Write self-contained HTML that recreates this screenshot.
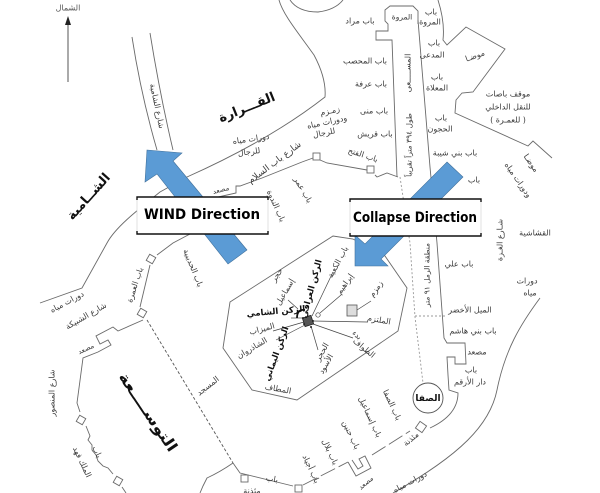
<!DOCTYPE html>
<html><head><meta charset="utf-8">
<style>
html,body{margin:0;padding:0;background:#fff;}
svg{display:block;}
text{font-family:"DejaVu Sans","Liberation Sans",sans-serif;fill:#3a3a3a;font-size:8px;dominant-baseline:central;text-anchor:middle;}
.b{font-weight:bold;fill:#111;}
.lab{font-family:"DejaVu Sans","Liberation Sans",sans-serif;font-weight:bold;fill:#000;font-size:14px;dominant-baseline:auto;text-anchor:start;}
</style></head><body>
<svg width="600" height="493" viewBox="0 0 600 493" xmlns="http://www.w3.org/2000/svg">
<rect width="600" height="493" fill="#fff"/>

<!-- North arrow -->
<line x1="68" y1="82" x2="68" y2="23" stroke="#555" stroke-width="1"/>
<polygon points="68,16 65,25 71,25" fill="#222"/>

<g fill="none" stroke="#6a6a6a" stroke-width="0.9">
  <!-- Shamiya street -->
  <path d="M132,37 Q141,95 157,150"/>
  <path d="M150,33 Q160,95 173,150"/>
  <!-- big curve -->
  <path d="M279,0 C283,15 300,35 314,55 C322,70 326,85 325,97 Q270,140 187,177 L160,192 C135,212 115,228 107,243 L82,288 L40,303"/>
  <path d="M290,0 Q298,12 318,12 Q335,10 343,0"/>
  <!-- top right bus station -->
  <path d="M438,0 Q445,22 443,40 L447,45 L466,27 L505,49 L473,92 L462,93 L456,100 L455,113 L528,146 L533,141 L552,158"/>
  <!-- Marwa & mas'a -->
  <path d="M397,177 L392,40 L376,40 L376,31 L388,31 L388,24 L385,21 L385,10 L390,6 L413,6 L418,11 L418,24" stroke-dasharray="none"/>
  <path d="M418,20 L430,167 L437,243 L444,338 L447,343 L455,343 L455,343 L465,343 L466,364 L455,364 L455,357 L447,357 L448,375 L449,390 L458,393 Q458,415 430,428"/>
  <path d="M400,177 L410,243 L415,317 L423,383" stroke="#999" stroke-dasharray="2,2"/>
  <path d="M415,316 L445,316" stroke="#999" stroke-dasharray="2,2"/>
  <!-- gates wall top -->
  <path d="M302,162 L313,158"/>
  <rect x="313" y="153" width="7" height="7"/>
  <path d="M320,160 L327,163 L367,170"/>
  <rect x="367" y="166" width="7" height="7"/>
  <path d="M375,175 L377,177 L387,173 L398,177"/>
  <path d="M302,162 L262,178 L240,186 L236,186 L236,193 L205,200"/>
  <path d="M190,234 L173,243 L157,255"/>
  <!-- octagon -->
  <path d="M230,302 L333,236 L353,239 L385,256 L407,288 L398,331 L297,400 L252,390 L223,348 Z"/>
  <!-- left boundary of expansion -->
  <rect x="-3.5" y="-3.5" width="7" height="7" transform="translate(151,259) rotate(30)"/>
  <path d="M150,265 L140,307"/>
  <rect x="-3.5" y="-3.5" width="7" height="7" transform="translate(142,313) rotate(30)"/>
  <path d="M143,320 L118,331 L113,327 L96,336 L100,344 L108,340 L111,345 L98,352 L83,358 L77,403 L80,412"/>
  <rect x="-3.5" y="-3.5" width="7" height="7" transform="translate(81,420) rotate(30)"/>
  <path d="M86,426 L88,431 L90,436 L88,440 L92,445 L92,450 L96,455 L98,461 L103,466 L108,468 L113,474"/>
  <rect x="-3.5" y="-3.5" width="7" height="7" transform="translate(118,481) rotate(30)"/>
  <path d="M122,487 L126,493"/>
  <!-- masjid dashed -->
  <path d="M147,320 L233,463" stroke="#555" stroke-dasharray="3,2"/>
  <!-- bottom -->
  <path d="M233,463 Q220,472 207,478 L203,486 L200,493"/>
  <path d="M233,463 L240,473 L293,486"/>
  <rect x="241" y="475" width="7" height="7"/>
  <rect x="295" y="485" width="7" height="7"/>
  <path d="M303,485 L348,462" stroke-dasharray="16,4"/>
  <path d="M348,462 L356,476 L371,468 L365,456 L359,459 L363,466 L358,469 L352,460"/>
  <path d="M372,455 L410,431" stroke-dasharray="16,4"/>
  <rect x="-4" y="-4" width="8" height="8" transform="translate(421,427) rotate(35)"/>
  <path d="M540,298 C520,325 505,350 497,390 C490,425 460,455 393,493"/>
  <circle cx="428" cy="398" r="15" stroke="#555"/>
</g>

<!-- Kaaba area -->
<g stroke="#444" stroke-width="0.7" fill="none">
  <line x1="303" y1="318" x2="291" y2="318"/>
  <line x1="304" y1="322" x2="273" y2="331"/>
  <line x1="305" y1="325" x2="276" y2="340"/>
  <line x1="311" y1="326" x2="318" y2="350"/>
  <line x1="313" y1="324" x2="353" y2="338"/>
  <line x1="313" y1="321" x2="367" y2="322"/>
  <line x1="312" y1="316" x2="333" y2="272"/>
  <line x1="320" y1="313" x2="341" y2="295"/>
  <line x1="357" y1="310" x2="371" y2="301"/>
  <line x1="288" y1="300" x2="298" y2="309"/>
  <circle cx="318" cy="315" r="2.2"/>
</g>
<rect x="347" y="305" width="10" height="11" fill="#ddd" stroke="#555" stroke-width="0.8"/>
<path d="M297,318 Q297,309 305,310" fill="none" stroke="#111" stroke-width="1.8"/>
<rect x="-4.5" y="-4.5" width="9" height="9" transform="translate(308,321) rotate(-18)" fill="#555" stroke="#222" stroke-width="0.8"/>
<g fill="#222">
  <circle cx="303" cy="318" r="1"/><circle cx="313" cy="321" r="1"/><circle cx="311" cy="327" r="1"/><circle cx="304" cy="324" r="1"/>
</g>

<!-- Texts -->
<text x="68" y="8" style="fill:#555">الشمال</text>
<text x="157" y="106" transform="rotate(78 157 106)">شارع الشامية</text>
<text x="247" y="108" class="b" font-size="13" transform="rotate(-22 247 108)" style="font-size:13px">القـــرارة</text>
<text x="89" y="197" class="b" transform="rotate(-48 89 197)" style="font-size:13px">الشــامية</text>
<text x="251" y="139" transform="rotate(-8 251 139)">دورات مياه</text>
<text x="249" y="152" transform="rotate(-8 249 152)">للرجال</text>
<text x="275" y="163" transform="rotate(-37 275 163)" style="font-size:9px">شارع باب السلام</text>
<text x="330" y="111" transform="rotate(-12 330 111)">زمـزم</text>
<text x="327" y="122" transform="rotate(-12 327 122)">ودورات مياه</text>
<text x="324" y="133" transform="rotate(-12 324 133)">للرجال</text>
<text x="360" y="21">باب مراد</text>
<text x="402" y="17" style="font-size:7.5px">المروة</text>
<text x="431" y="12">باب</text>
<text x="430" y="22">المروة</text>
<text x="365" y="61">باب المحصب</text>
<text x="371" y="84">باب عرفة</text>
<text x="374" y="111">باب منى</text>
<text x="375" y="134">باب قريش</text>
<text x="363" y="155" transform="rotate(18 363 155)">باب الفتح</text>
<text x="434" y="43">باب</text>
<text x="432" y="55">المدعى</text>
<text x="437" y="77">باب</text>
<text x="437" y="88">المعلاة</text>
<text x="441" y="118">باب</text>
<text x="440" y="129">الحجون</text>
<text x="455" y="153">باب بني شيبة</text>
<text x="474" y="180">باب</text>
<text x="475" y="56" transform="rotate(-20 475 56)">موضـا</text>
<text x="508" y="94">موقف باصات</text>
<text x="508" y="107">للنقل الداخلي</text>
<text x="508" y="120">( للعمـرة )</text>
<text x="531" y="163" transform="rotate(55 531 163)">موضـا</text>
<text x="518" y="180" transform="rotate(55 518 180)">ودورات مياه</text>
<text x="500" y="240" transform="rotate(-90 500 240)">شـارع الغـزة</text>
<text x="535" y="233">القشاشية</text>
<text x="527" y="281">دورات</text>
<text x="530" y="293">مياه</text>
<text x="459" y="264">باب علي</text>
<text x="470" y="310">الميل الأخضر</text>
<text x="473" y="331">باب بني هاشم</text>
<text x="477" y="352">مصعد</text>
<text x="471" y="370">باب</text>
<text x="470" y="382">دار الأرقم</text>
<text x="408" y="73" transform="rotate(-90 408 73)">المســـــعى</text>
<text x="409" y="145" transform="rotate(-90 409 145)" style="font-size:7.5px">طول ٣٩٤ متراً تقريباً</text>
<text x="427" y="275" transform="rotate(-90 427 275)" style="font-size:7.5px">منطقة الرمل ٩١ متر</text>

<text x="221" y="190" transform="rotate(-15 221 190)" style="font-size:7px">مصعد</text>
<text x="276" y="206" transform="rotate(66 276 206)">باب الندوة</text>
<text x="303" y="190" transform="rotate(60 303 190)">باب عمر</text>
<text x="193" y="268" transform="rotate(68 193 268)">باب الحديبية</text>
<text x="135" y="285" transform="rotate(-72 135 285)">باب العمرة</text>
<text x="67" y="302" transform="rotate(-28 67 302)">دورات مياه</text>
<text x="86" y="316" transform="rotate(-30 86 316)">شارع الشبيكة</text>
<text x="86" y="349" transform="rotate(-25 86 349)" style="font-size:7px">مصعد</text>
<text x="52" y="393" transform="rotate(-90 52 393)">شارع المنصور</text>
<text x="148" y="412" class="b" transform="rotate(56 148 412)" style="font-size:15px" textLength="92" lengthAdjust="spacingAndGlyphs">التوســــعة</text>
<text x="208" y="386" transform="rotate(-38 208 386)">المسجد</text>
<text x="97" y="452" transform="rotate(65 97 452)">باب</text>
<text x="82" y="462" transform="rotate(65 82 462)">الملك فهد</text>

<text x="272" y="479" transform="rotate(10 272 479)">باب</text>
<text x="252" y="491">مئذنة</text>
<text x="311" y="469" transform="rotate(65 311 469)">باب أجياد</text>
<text x="330" y="452" transform="rotate(65 330 452)">باب بلال</text>
<text x="351" y="435" transform="rotate(65 351 435)">باب حنين</text>
<text x="370" y="417" transform="rotate(65 370 417)">باب إسماعيل</text>
<text x="392" y="405" transform="rotate(65 392 405)">باب الصفا</text>
<text x="428" y="399" class="b" style="font-size:9px">الصفا</text>
<text x="366" y="483" transform="rotate(-40 366 483)" style="font-size:7px">مصعد</text>
<text x="411" y="439" transform="rotate(-40 411 439)">مئذنة</text>
<text x="410" y="482" transform="rotate(-28 410 482)">دورات مياه</text>

<text x="312" y="289" class="b" transform="rotate(-75 312 289)" style="font-size:8.5px">الركن العراقي</text>
<text x="338" y="262" transform="rotate(-62 338 262)">باب الكعبة</text>
<text x="345" y="284" transform="rotate(-55 345 284)">إبراهيم</text>
<text x="376" y="289" transform="rotate(-55 376 289)">زمزم</text>
<text x="379" y="320" transform="rotate(10 379 320)">الملتزم</text>
<text x="357" y="335" transform="rotate(40 357 335)" style="font-size:7.5px">بدء</text>
<text x="364" y="348" transform="rotate(40 364 348)">الطواف</text>
<text x="322" y="352" transform="rotate(-60 322 352)">الحجر</text>
<text x="326" y="364" transform="rotate(-60 326 364)">الأسود</text>
<text x="277" y="354" class="b" transform="rotate(-70 277 354)" style="font-size:8.5px">الركن اليماني</text>
<text x="276" y="312" class="b" transform="rotate(-5 276 312)" style="font-size:8.5px">الركن الشامي</text>
<text x="277" y="275" transform="rotate(-55 277 275)">حجر</text>
<text x="285" y="292" transform="rotate(-60 285 292)">إسماعيل</text>
<text x="262" y="329" transform="rotate(-15 262 329)">الميزاب</text>
<text x="252" y="348" transform="rotate(-30 252 348)">الشاذروان</text>
<text x="278" y="389" transform="rotate(10 278 389)">المطاف</text>

<!-- Blue arrows -->
<polygon points="147,150 182,153 173,161 247,250 228,264 157,174 145,182" fill="#5b9bd5" stroke="#41719c" stroke-width="0.6"/>
<polygon points="447,162 463,177 381,259 388,266 355,266 355,235 365,244" fill="#5b9bd5" stroke="#41719c" stroke-width="0.6"/>

<!-- Label boxes -->
<rect x="137" y="197" width="131" height="37" fill="#fff" stroke="#ccc" stroke-width="0.6"/>
<path d="M137,200 L137,197 L268,197 L268,200 M137,231 L137,234 L268,234 L268,231" fill="none" stroke="#111" stroke-width="1.4"/>
<text class="lab" x="144" y="219" textLength="116" lengthAdjust="spacingAndGlyphs">WIND Direction</text>

<rect x="350" y="199" width="131" height="37" fill="#fff" stroke="#ccc" stroke-width="0.6"/>
<path d="M350,202 L350,199 L481,199 L481,202 M350,233 L350,236 L481,236 L481,233" fill="none" stroke="#111" stroke-width="1.4"/>
<text class="lab" x="353" y="222" textLength="124" lengthAdjust="spacingAndGlyphs">Collapse Direction</text>
</svg>
</body></html>
